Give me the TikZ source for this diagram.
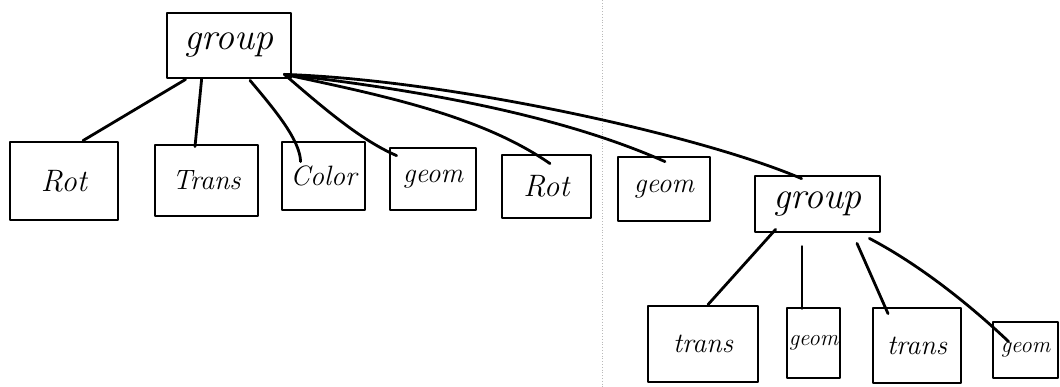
\documentclass[tikz,border=0pt]{standalone}
\usetikzlibrary{calc}
\begin{document}
\begin{tikzpicture}[x=1pt,y=-1pt,
  box/.style={draw, line width=2.8pt, line join=round, inner sep=0pt,
              font=\fontsize{28}{32}\selectfont\itshape},
  big/.style={font=\fontsize{38}{42}\selectfont\itshape},
  small/.style={font=\fontsize{23}{26}\selectfont\itshape},
  link/.style={line width=2.8pt, line cap=round},
  fold/.style={gray!55, dotted, line width=0.8pt}]
\useasboundingbox (0,0) rectangle (1060,387);
\draw[fold] (602,0) -- (602,387);

% top level
\node[box, big, minimum width=124pt, minimum height=65pt] (g1) at (229,45.5) {group};
\node[box, font=\fontsize{31}{34}\selectfont\itshape, minimum width=108pt, minimum height=78pt] (rot1) at (64,181) {Rot};
\node[box, minimum width=103pt, minimum height=71pt] (trans1) at (206.5,180.5) {Trans};
\node[box, minimum width=83pt, minimum height=68pt] (color) at (323.5,176) {Color};
\node[box, minimum width=86pt, minimum height=62pt] (geom1) at (433,179) {geom};
\node[box, font=\fontsize{31}{34}\selectfont\itshape, minimum width=89pt, minimum height=63pt] (rot2) at (546.5,186.5) {Rot};
\node[box, minimum width=92pt, minimum height=64pt] (geom2) at (664,189) {geom};
\node[box, big, minimum width=125pt, minimum height=56pt] (g2) at (817.5,204) {group};

% second level
\node[box, minimum width=110pt, minimum height=76pt] (trans2) at (703,344) {trans};
\node[box, small, minimum width=53pt, minimum height=70pt] (geom3) at (813.5,343) {geom};
\node[box, minimum width=88pt, minimum height=75pt] (trans3) at (917,345.5) {trans};
\node[box, small, minimum width=65pt, minimum height=56pt] (geom4) at (1025.5,350) {geom};

% connectors from the top group
\draw[link] ($(g1.south west)+(20,0)$) -- ($(rot1.north)+(19,0)$);
\draw[link] ($(g1.south west)+(36,0)$) -- ($(trans1.north)+(-11.5,3)$);
\draw[link] ($(g1.south)+(21,1)$) .. controls (275,110) and (300,140) .. ($(color.north west)+(20,21)$);
\draw[link] ($(g1.south east)+(-8,-5)$) .. controls (320,105) and (360,140) .. ($(geom1.north west)+(8,9)$);
\draw[link] ($(g1.south east)+(-8,-5)$) .. controls (380,95) and (480,115) .. ($(rot2.north)+(3.5,10)$);
\draw[link] ($(g1.south east)+(-8,-5)$) .. controls (420,90) and (560,115) .. ($(geom2.north)+(1,6)$);
\draw[link] ($(g1.south east)+(-8,-5)$) .. controls (450,80) and (700,135) .. ($(g2.north west)+(48,4)$);

% connectors from the second group
\draw[link] ($(g2.south west)+(22,-4)$) -- ($(trans2.north)+(5,0)$);
\draw[link] ($(g2.south)+(-15.5,13)$) -- ($(geom3.north)+(-11.5,2)$);
\draw[link] ($(g2.south)+(39.5,10)$) -- ($(trans3.north)+(-29,7)$);
\draw[link] ($(g2.south east)+(-12,5)$) .. controls (920,265) and (970,305) .. ($(geom4.north west)+(17,21)$);
\end{tikzpicture}
\end{document}
